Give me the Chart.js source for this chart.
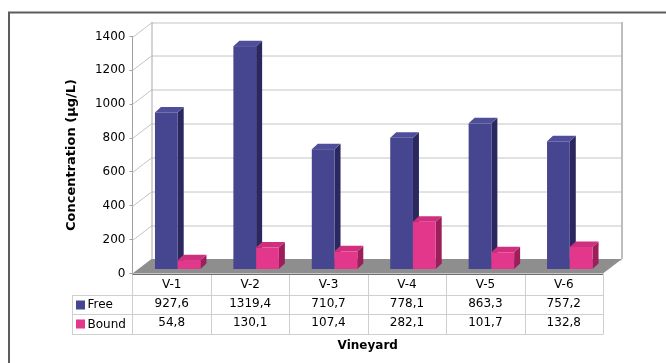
<!DOCTYPE html>
<html>
<head>
<meta charset="utf-8">
<script src="https://cdn.jsdelivr.net/npm/chart.js@4.4.1/dist/chart.umd.min.js"></script>
<style>
  html, body { margin: 0; padding: 0; background: #fff; }
  #wrap { position: relative; width: 666px; height: 363px; }
</style>
</head>
<body>
<div id="wrap"><canvas id="chart"></canvas></div>
<script>
const categories = ['V-1', 'V-2', 'V-3', 'V-4', 'V-5', 'V-6'];
const seriesNames = ['Free', 'Bound'];
const freeValues = [927.6, 1319.4, 710.7, 778.1, 863.3, 757.2];
const boundValues = [54.8, 130.1, 107.4, 282.1, 101.7, 132.8];
const yMax = 1400;
const yStep = 200;

// front, side, top colours of the 3d boxes
const faceColors = [
  { front: '#46458f', side: '#2a285f', top: '#4f4e9b' },
  { front: '#e2378a', side: '#9c1e5a', top: '#cf2f7e' }
];

const WALL_DX = 19, WALL_DY = -14.5;   // depth of the back wall
const BAR_DX = 6, BAR_DY = -4;         // where the bar front sits
const BOX_DX = 6, BOX_DY = -5.5;       // depth of one bar

const fmt = v => v.toFixed(1).replace('.', ',');
const tableLabels = categories.map((c, i) => [c, fmt(freeValues[i]), fmt(boundValues[i])]);

const scene3d = {
  id: 'scene3d',
  beforeDraw(chart) {
    const ctx = chart.ctx;
    ctx.save();
    ctx.strokeStyle = '#5d5d5d';
    ctx.lineWidth = 2;
    ctx.strokeRect(9, 12.5, 700, 400);
    ctx.restore();
  },
  beforeDatasetsDraw(chart) {
    const ctx = chart.ctx;
    const { left, right, top, bottom } = chart.chartArea;
    const y = chart.scales.y;
    ctx.save();
    // back wall
    ctx.fillStyle = '#fff';
    ctx.fillRect(left + WALL_DX, top + WALL_DY, right - left, bottom - top);
    ctx.lineWidth = 1;
    ctx.strokeStyle = '#c4c4c4';
    y.ticks.forEach(t => {
      const py = Math.round(y.getPixelForValue(t.value)) + 0.5;
      ctx.beginPath();
      ctx.moveTo(left, py);
      ctx.lineTo(left + WALL_DX, py + WALL_DY);
      ctx.lineTo(right + WALL_DX, py + WALL_DY);
      ctx.stroke();
    });
    ctx.strokeStyle = '#a8a8a8';
    ctx.beginPath();
    ctx.moveTo(left + WALL_DX + 0.5, top + WALL_DY);
    ctx.lineTo(left + WALL_DX + 0.5, bottom + WALL_DY);
    ctx.stroke();
    ctx.strokeStyle = '#bdbdbd';
    ctx.lineWidth = 2;
    ctx.beginPath();
    ctx.moveTo(right + WALL_DX, top + WALL_DY);
    ctx.lineTo(right + WALL_DX, bottom + WALL_DY);
    ctx.stroke();
    // floor
    ctx.fillStyle = '#8e8e8e';
    ctx.beginPath();
    ctx.moveTo(left, bottom);
    ctx.lineTo(right, bottom);
    ctx.lineTo(right + WALL_DX, bottom + WALL_DY);
    ctx.lineTo(left + WALL_DX, bottom + WALL_DY);
    ctx.closePath();
    ctx.fill();
    ctx.restore();
  },
  afterDatasetsDraw(chart) {
    const ctx = chart.ctx;
    ctx.save();
    categories.forEach((c, i) => {
      chart.data.datasets.forEach((ds, d) => {
        const el = chart.getDatasetMeta(d).data[i];
        const col = faceColors[d];
        const w = el.width;
        const l = el.x - w / 2 + BAR_DX, r = el.x + w / 2 + BAR_DX;
        const t = el.y + BAR_DY, b = el.base + BAR_DY;
        ctx.fillStyle = col.side;
        ctx.beginPath();
        ctx.moveTo(r, t); ctx.lineTo(r + BOX_DX, t + BOX_DY);
        ctx.lineTo(r + BOX_DX, b + BOX_DY); ctx.lineTo(r, b);
        ctx.closePath(); ctx.fill();
        ctx.fillStyle = col.top;
        ctx.beginPath();
        ctx.moveTo(l, t); ctx.lineTo(l + BOX_DX, t + BOX_DY);
        ctx.lineTo(r + BOX_DX, t + BOX_DY); ctx.lineTo(r, t);
        ctx.closePath(); ctx.fill();
        ctx.fillStyle = col.front;
        ctx.fillRect(l, t, r - l, b - t);
      });
    });
    ctx.restore();
  },
  afterDraw(chart) {
    const ctx = chart.ctx;
    const { left, right, bottom } = chart.chartArea;
    const x = chart.scales.x;
    const cw = (right - left) / categories.length;
    const rowH = 19.3;
    const r1 = bottom + 21.5, r2 = r1 + rowH, r3 = r2 + rowH;
    const legL = 72;
    ctx.save();
    ctx.lineWidth = 1;
    ctx.strokeStyle = '#cfcfcf';
    ctx.beginPath();
    [r1, r2, r3].forEach(ry => {
      ctx.moveTo(legL, Math.round(ry) + 0.5);
      ctx.lineTo(right, Math.round(ry) + 0.5);
    });
    for (let i = 0; i <= categories.length; i++) {
      const px = Math.round(x.getPixelForValue(i) - cw / 2) + 0.5;
      ctx.moveTo(px, bottom);
      ctx.lineTo(px, Math.round(r3) + 0.5);
    }
    ctx.moveTo(legL + 0.5, Math.round(r1));
    ctx.lineTo(legL + 0.5, Math.round(r3) + 0.5);
    ctx.stroke();
    // floor front edge
    ctx.strokeStyle = '#6e6e6e';
    ctx.beginPath();
    ctx.moveTo(left, Math.round(bottom) + 0.5);
    ctx.lineTo(right, Math.round(bottom) + 0.5);
    ctx.stroke();
    // legend cells
    ctx.font = '12px "DejaVu Sans"';
    ctx.textBaseline = 'middle';
    ctx.fillStyle = '#000';
    seriesNames.forEach((n, d) => {
      const cy = (d === 0 ? (r1 + r2) / 2 : (r2 + r3) / 2);
      ctx.fillStyle = faceColors[d].front;
      ctx.fillRect(76, Math.round(cy) - 4.5, 9, 9);
      ctx.fillStyle = '#000';
      ctx.fillText(n, 87.5, cy + 0.5);
    });
    ctx.restore();
  }
};

new Chart(document.getElementById('chart'), {
  type: 'bar',
  data: {
    labels: tableLabels,
    datasets: [
      { label: seriesNames[0], data: freeValues, backgroundColor: 'rgba(0,0,0,0)' },
      { label: seriesNames[1], data: boundValues, backgroundColor: 'rgba(0,0,0,0)' }
    ]
  },
  options: {
    responsive: true,
    maintainAspectRatio: false,
    animation: false,
    layout: { padding: { top: 36.5, right: 63, bottom: 0, left: 0 } },
    datasets: { bar: { categoryPercentage: 0.58, barPercentage: 1 } },
    plugins: { legend: { display: false }, tooltip: { enabled: false } },
    scales: {
      x: {
        grid: { display: false, drawTicks: false },
        border: { display: false },
        ticks: {
          autoSkip: false, maxRotation: 0, padding: 1.25, color: '#000',
          font: { family: 'DejaVu Sans', size: 12, lineHeight: '19.3px' }
        },
        title: {
          display: true, text: 'Vineyard', color: '#000',
          font: { family: 'DejaVu Sans', size: 12, weight: 'bold' },
          padding: { top: 0, bottom: 9.8 }
        },
        afterFit(s) { s.height = 89.5; }
      },
      y: {
        min: 0, max: yMax,
        grid: { drawOnChartArea: false, tickLength: 3, color: '#a0a0a0' },
        border: { display: true, color: '#a0a0a0' },
        ticks: {
          stepSize: yStep, padding: 4, color: '#000',
          font: { family: 'DejaVu Sans', size: 12 },
          callback: v => String(v)
        },
        title: {
          display: true, text: 'Concentration (µg/L)', color: '#000',
          font: { family: 'DejaVu Sans', size: 13, weight: 'bold' },
          padding: { top: 64, bottom: 0 }
        },
        afterFit(s) { s.width = 132.5; }
      }
    }
  },
  plugins: [scene3d]
});
</script>
</body>
</html>
